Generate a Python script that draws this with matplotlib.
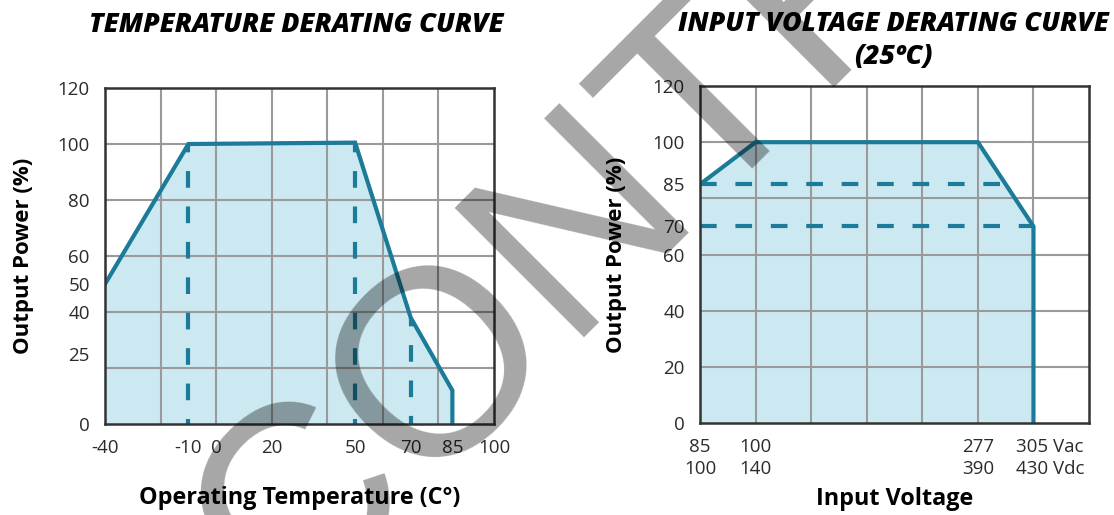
import matplotlib
matplotlib.use("Agg")
import matplotlib.pyplot as plt
import matplotlib.transforms as mtransforms

plt.rcParams['font.family'] = ['Open Sans', 'DejaVu Sans']
plt.rcParams['axes.unicode_minus'] = False

# temperature derating
temp_c = [-40, -10, 50, 70, 85, 85]
temp_power = [50, 100, 100.5, 38, 12, 0]
temp_ticks = [-40, -10, 0, 20, 50, 70, 85, 100]
temp_yticks = [0, 25, 40, 50, 60, 80, 100, 120]
temp_xgrid = [-20, 0, 20, 40, 60, 80]
temp_ygrid = [20, 40, 60, 80, 100]
temp_marks = [(-10, 100), (50, 100), (70, 38)]  # dashed drop lines (x, top)

# input voltage derating (columns of the grid)
volt_pos = [0, 1, 5, 6, 6]
volt_power = [85, 100, 100, 70, 0]
volt_tick_pos = [0, 1, 5, 6]
volt_tick_labels = ["85\n100", "100\n140", "277\n390", "305 Vac\n430 Vdc"]
volt_yticks = [0, 20, 40, 60, 70, 85, 100, 120]
volt_xgrid = [1, 2, 3, 4, 5, 6]
volt_ygrid = [20, 40, 60, 80, 100]
volt_levels = [(85, 5.5), (70, 6)]  # dashed levels (y, right end)

LINE = '#1b7b98'
FILL = '#cce9f1'
GRID = '#9a9a9a'
TXT = '#2b2b2b'

fig = plt.figure(figsize=(11.14, 5.15), dpi=100)
ax1 = fig.add_axes([0.0943, 0.1767, 0.3492, 0.6524])
ax2 = fig.add_axes([0.6284, 0.1786, 0.3492, 0.6544])


def style(ax, xgrid, ygrid):
    for s in ax.spines.values():
        s.set_color('#333333')
        s.set_linewidth(1.8)
        s.set_zorder(5)
    for x in xgrid:
        ax.axvline(x, color=GRID, linewidth=1.5, zorder=1)
    for y in ygrid:
        ax.axhline(y, color=GRID, linewidth=1.5, zorder=1)
    ax.tick_params(length=0, labelsize=13.5, colors=TXT, pad=11)


# left chart
ax1.fill_between(temp_c, temp_power, 0, color=FILL, zorder=0.5, linewidth=0)
for x, top in temp_marks:
    ax1.plot([x, x], [top, 0], color=LINE, lw=3, linestyle=(2, (4, 4.5)), zorder=3)
ax1.plot(temp_c, temp_power, color=LINE, lw=3, zorder=4, solid_joinstyle='miter')
ax1.set_xlim(-40, 100)
ax1.set_ylim(0, 120)
ax1.set_xticks(temp_ticks)
ax1.set_yticks(temp_yticks)
style(ax1, temp_xgrid, temp_ygrid)
ax1.set_xlabel("Operating Temperature (C°)", fontsize=16.8, fontweight='bold')
ax1.xaxis.set_label_coords(0.5, -0.185)
ax1.set_ylabel("Output Power (%)", fontsize=16, fontweight='bold')
ax1.yaxis.set_label_coords(-0.183, 0.5)
fig.text(0.266, 0.951, "TEMPERATURE DERATING CURVE", fontsize=19.3, fontweight='heavy',
         style='italic', ha='center', va='center')

# right chart
ax2.fill_between(volt_pos, volt_power, 0, color=FILL, zorder=0.5, linewidth=0)
for y, right in volt_levels:
    ax2.plot([0, right], [y, y], color=LINE, lw=3, linestyle=(0, (4, 4.5)), zorder=3)
ax2.plot(volt_pos, volt_power, color=LINE, lw=3, zorder=4, solid_joinstyle='miter')
ax2.set_xlim(0, 7)
ax2.set_ylim(0, 120)
ax2.set_xticks(volt_tick_pos)
ax2.set_xticklabels(volt_tick_labels, linespacing=1.25)
ax2.set_yticks(volt_yticks)
style(ax2, volt_xgrid, volt_ygrid)
last = ax2.get_xticklabels()[-1]
last.set_horizontalalignment('left')
last.set_transform(last.get_transform() +
                   mtransforms.ScaledTranslation(-0.17, 0, fig.dpi_scale_trans))
ax2.set_xlabel("Input Voltage", fontsize=16.8, fontweight='bold')
ax2.xaxis.set_label_coords(0.5, -0.19)
ax2.set_ylabel("Output Power (%)", fontsize=16, fontweight='bold')
ax2.yaxis.set_label_coords(-0.188, 0.5)
fig.text(0.8016, 0.953, "INPUT VOLTAGE DERATING CURVE", fontsize=19.3, fontweight='heavy',
         style='italic', ha='center', va='center')
fig.text(0.8016, 0.889, "(25ºC)", fontsize=19.3, fontweight='heavy',
         style='italic', ha='center', va='center')

# watermark
fig.text(0.255, -0.211, "CONTROLLED", fontsize=191, family='Liberation Sans',
         rotation=45, rotation_mode='anchor', ha='left', va='baseline',
         color='black', alpha=0.35, zorder=10)

fig.savefig('out.png', dpi=100)
